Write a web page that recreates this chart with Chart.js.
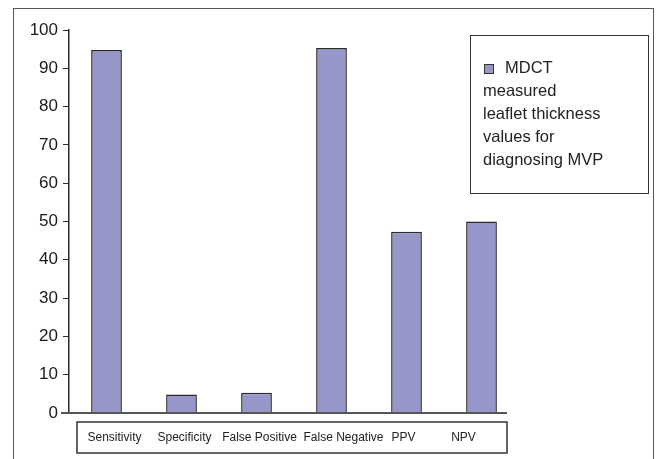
<!DOCTYPE html>
<html>
<head>
<meta charset="utf-8">
<script src="https://cdn.jsdelivr.net/npm/chart.js@4"></script>
<style>
  html, body { margin: 0; padding: 0; background: #fff; }
  #wrap { width: 659px; height: 459px; position: relative; }
</style>
</head>
<body>
<div id="wrap"><canvas id="barChart" width="659" height="459"></canvas></div>
<script>
// dados
const categories = ['Sensitivity', 'Specificity', 'False Positive', 'False Negative', 'PPV', 'NPV'];
const values = [94.8, 4.8, 5.3, 95.3, 47.3, 50];
const seriesLabel = ['MDCT', 'measured', 'leaflet thickness', 'values for', 'diagnosing MVP'];
const yTicks = [0, 10, 20, 30, 40, 50, 60, 70, 80, 90, 100];

const barColor = '#9696c9';
const lineColor = '#2a2a2a';
// deslocamento dos rótulos em relação ao centro das barras (como na figura)
const labelShift = [8, 3, 3, 12, -3, -18];

// moldura, linha base, caixa das categorias e legenda
const framePlugin = {
    id: 'frame',
    afterDraw(chart) {
        const ctx = chart.ctx;
        const area = chart.chartArea;
        const xScale = chart.scales.x;
        const y0 = chart.scales.y.getPixelForValue(0);
        ctx.save();

        // borda externa
        ctx.strokeStyle = '#555';
        ctx.lineWidth = 1;
        ctx.strokeRect(13.5, 8.5, 640, 470);

        // linha base
        ctx.strokeStyle = '#555';
        ctx.lineWidth = 2;
        ctx.beginPath();
        ctx.moveTo(area.left - 8, y0);
        ctx.lineTo(area.right - 12, y0);
        ctx.stroke();

        // caixa dos rótulos
        ctx.lineWidth = 1.5;
        ctx.strokeStyle = '#333';
        ctx.strokeRect(77, 422, area.right - 12 - 77, 31);

        // rótulos das categorias
        ctx.fillStyle = '#222';
        ctx.font = '12px "Liberation Sans", Arial, sans-serif';
        ctx.textAlign = 'center';
        ctx.textBaseline = 'middle';
        categories.forEach((c, i) => {
            ctx.fillText(c, xScale.getPixelForTick(i) + labelShift[i], 437.5);
        });

        // legenda
        ctx.lineWidth = 1;
        ctx.strokeStyle = '#333';
        ctx.strokeRect(470.5, 35.5, 178, 158);
        ctx.fillStyle = barColor;
        ctx.fillRect(484, 64, 10, 10);
        ctx.strokeRect(484.5, 64.5, 9, 9);
        ctx.fillStyle = '#222';
        ctx.font = '16.5px "Liberation Sans", Arial, sans-serif';
        ctx.textAlign = 'left';
        seriesLabel.forEach((line, i) => {
            const x = i === 0 ? 505 : 483;
            ctx.fillText(line, x, 68 + i * 23.2);
        });
        ctx.restore();
    }
};

const ctx = document.getElementById('barChart').getContext('2d');
const barChart = new Chart(ctx, {
    type: 'bar',
    data: {
        labels: categories,
        datasets: [{
            label: seriesLabel.join(' '),
            data: values,
            backgroundColor: barColor,
            borderColor: lineColor,
            borderWidth: 1.5,
            categoryPercentage: 1,
            barPercentage: 0.41
        }]
    },
    options: {
        responsive: false,
        animation: false,
        layout: {
            padding: { top: 30, right: 140, bottom: 0, left: 0 }
        },
        plugins: {
            legend: { display: false },
            tooltip: { enabled: false }
        },
        scales: {
            x: {
                afterFit(scale) { scale.height = 46; },
                grid: { display: false, drawTicks: false },
                border: { display: false },
                ticks: { display: false }
            },
            y: {
                min: 0,
                max: 100,
                afterFit(scale) { scale.width = 69; },
                afterBuildTicks(scale) { scale.ticks = yTicks.map(v => ({ value: v })); },
                grid: {
                    drawOnChartArea: false,
                    drawTicks: true,
                    tickLength: 6,
                    color: lineColor
                },
                border: { display: true, color: lineColor, width: 1.5 },
                ticks: {
                    color: '#1a1a1a',
                    padding: 5,
                    font: { family: '"Liberation Sans", Arial, sans-serif', size: 17 }
                }
            }
        }
    },
    plugins: [framePlugin]
});
</script>
</body>
</html>
